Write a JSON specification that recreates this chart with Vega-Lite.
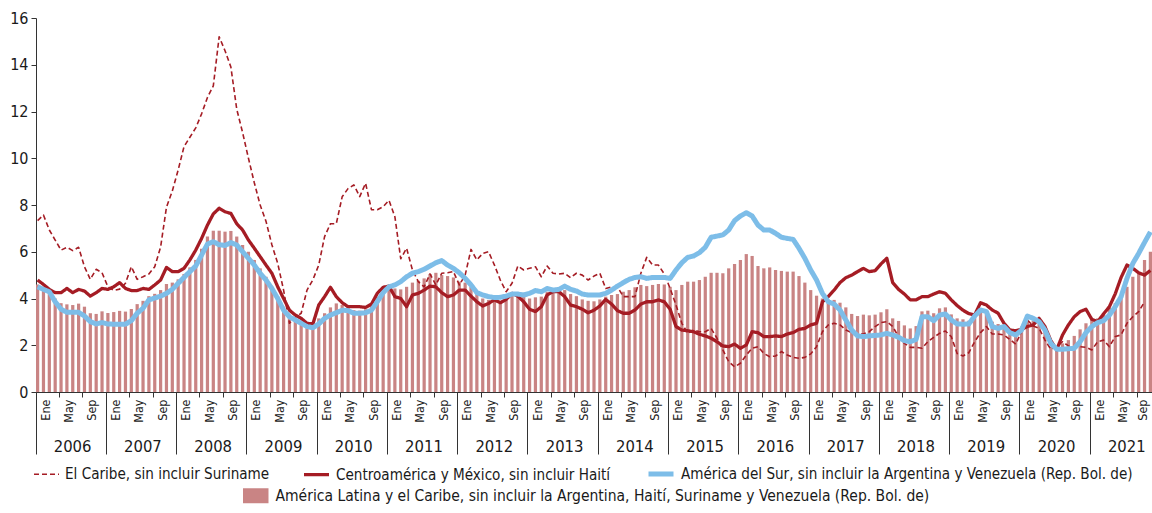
{
"$schema":"https://vega.github.io/schema/vega-lite/v6.json",
"width":1116,"height":374,
"autosize":{"type":"none"},
"padding":{"left":36,"top":18,"right":0,"bottom":121},
"background":"white",
"config":{"view":{"stroke":null},"font":"DejaVu Sans Condensed",
"axis":{"grid":false,"labelFont":"DejaVu Sans Condensed","labelColor":"#1a1a1a","domainColor":"#333333","tickColor":"#333333"},
"legend":{"labelFont":"DejaVu Sans Condensed","labelColor":"#1a1a1a"}},
"data":{"values":[
{"m":"2006-01","alc":4.6,"car":7.33,"cam":4.79,"sur":4.5},
{"m":"2006-02","alc":4.5,"car":7.57,"cam":4.6,"sur":4.39},
{"m":"2006-03","alc":4.3,"car":6.93,"cam":4.39,"sur":4.29},
{"m":"2006-04","alc":4.0,"car":6.5,"cam":4.25,"sur":3.86},
{"m":"2006-05","alc":3.8,"car":6.07,"cam":4.25,"sur":3.54},
{"m":"2006-06","alc":3.75,"car":6.19,"cam":4.43,"sur":3.41},
{"m":"2006-07","alc":3.72,"car":6.05,"cam":4.25,"sur":3.41},
{"m":"2006-08","alc":3.78,"car":6.19,"cam":4.39,"sur":3.41},
{"m":"2006-09","alc":3.65,"car":5.36,"cam":4.32,"sur":3.25},
{"m":"2006-10","alc":3.37,"car":4.82,"cam":4.1,"sur":3.01},
{"m":"2006-11","alc":3.34,"car":5.25,"cam":4.25,"sur":2.91},
{"m":"2006-12","alc":3.45,"car":5.1,"cam":4.43,"sur":2.97},
{"m":"2007-01","alc":3.38,"car":4.5,"cam":4.39,"sur":2.91},
{"m":"2007-02","alc":3.42,"car":4.35,"cam":4.5,"sur":2.9},
{"m":"2007-03","alc":3.47,"car":4.4,"cam":4.68,"sur":2.9},
{"m":"2007-04","alc":3.44,"car":4.65,"cam":4.43,"sur":2.9},
{"m":"2007-05","alc":3.55,"car":5.36,"cam":4.34,"sur":3.05},
{"m":"2007-06","alc":3.76,"car":4.82,"cam":4.34,"sur":3.37},
{"m":"2007-07","alc":3.9,"car":4.93,"cam":4.43,"sur":3.58},
{"m":"2007-08","alc":4.1,"car":5.05,"cam":4.39,"sur":3.94},
{"m":"2007-09","alc":4.2,"car":5.36,"cam":4.58,"sur":4.02},
{"m":"2007-10","alc":4.36,"car":6.2,"cam":4.79,"sur":4.1},
{"m":"2007-11","alc":4.62,"car":7.9,"cam":5.33,"sur":4.22},
{"m":"2007-12","alc":4.68,"car":8.6,"cam":5.15,"sur":4.39},
{"m":"2008-01","alc":4.82,"car":9.5,"cam":5.15,"sur":4.65},
{"m":"2008-02","alc":5.05,"car":10.5,"cam":5.29,"sur":4.9},
{"m":"2008-03","alc":5.33,"car":10.9,"cam":5.65,"sur":5.15},
{"m":"2008-04","alc":5.65,"car":11.3,"cam":6.07,"sur":5.39},
{"m":"2008-05","alc":6.13,"car":11.9,"cam":6.57,"sur":5.86},
{"m":"2008-06","alc":6.65,"car":12.6,"cam":7.14,"sur":6.33},
{"m":"2008-07","alc":6.9,"car":13.1,"cam":7.62,"sur":6.43},
{"m":"2008-08","alc":6.9,"car":15.2,"cam":7.86,"sur":6.3},
{"m":"2008-09","alc":6.86,"car":14.6,"cam":7.71,"sur":6.27},
{"m":"2008-10","alc":6.89,"car":13.9,"cam":7.64,"sur":6.39},
{"m":"2008-11","alc":6.65,"car":12.1,"cam":7.2,"sur":6.29},
{"m":"2008-12","alc":6.29,"car":11.1,"cam":6.93,"sur":6.0},
{"m":"2009-01","alc":6.0,"car":10.0,"cam":6.5,"sur":5.72},
{"m":"2009-02","alc":5.65,"car":8.95,"cam":6.15,"sur":5.43},
{"m":"2009-03","alc":5.29,"car":8.0,"cam":5.79,"sur":5.08},
{"m":"2009-04","alc":4.93,"car":7.3,"cam":5.43,"sur":4.79},
{"m":"2009-05","alc":4.5,"car":6.3,"cam":5.08,"sur":4.43},
{"m":"2009-06","alc":4.08,"car":5.5,"cam":4.5,"sur":4.0},
{"m":"2009-07","alc":3.65,"car":4.36,"cam":4.0,"sur":3.5},
{"m":"2009-08","alc":3.22,"car":2.94,"cam":3.5,"sur":3.22},
{"m":"2009-09","alc":3.08,"car":3.2,"cam":3.29,"sur":3.08},
{"m":"2009-10","alc":3.0,"car":3.37,"cam":3.15,"sur":2.94},
{"m":"2009-11","alc":2.87,"car":4.36,"cam":2.94,"sur":2.8},
{"m":"2009-12","alc":2.87,"car":4.8,"cam":2.91,"sur":2.75},
{"m":"2010-01","alc":3.15,"car":5.43,"cam":3.72,"sur":2.91},
{"m":"2010-02","alc":3.37,"car":6.65,"cam":4.08,"sur":3.15},
{"m":"2010-03","alc":3.62,"car":7.2,"cam":4.48,"sur":3.29},
{"m":"2010-04","alc":3.79,"car":7.2,"cam":4.08,"sur":3.39},
{"m":"2010-05","alc":3.72,"car":8.35,"cam":3.82,"sur":3.5},
{"m":"2010-06","alc":3.65,"car":8.7,"cam":3.65,"sur":3.48},
{"m":"2010-07","alc":3.5,"car":8.86,"cam":3.65,"sur":3.37},
{"m":"2010-08","alc":3.48,"car":8.36,"cam":3.65,"sur":3.37},
{"m":"2010-09","alc":3.54,"car":8.93,"cam":3.62,"sur":3.39},
{"m":"2010-10","alc":3.72,"car":7.8,"cam":3.76,"sur":3.5},
{"m":"2010-11","alc":4.08,"car":7.8,"cam":4.22,"sur":3.86},
{"m":"2010-12","alc":4.29,"car":7.93,"cam":4.48,"sur":4.25},
{"m":"2011-01","alc":4.39,"car":8.2,"cam":4.53,"sur":4.5},
{"m":"2011-02","alc":4.43,"car":7.5,"cam":4.08,"sur":4.58},
{"m":"2011-03","alc":4.39,"car":5.7,"cam":4.0,"sur":4.72},
{"m":"2011-04","alc":4.5,"car":6.15,"cam":3.65,"sur":4.93},
{"m":"2011-05","alc":4.68,"car":5.22,"cam":4.15,"sur":5.08},
{"m":"2011-06","alc":4.76,"car":4.72,"cam":4.22,"sur":5.15},
{"m":"2011-07","alc":4.86,"car":4.5,"cam":4.36,"sur":5.25},
{"m":"2011-08","alc":5.05,"car":5.05,"cam":4.53,"sur":5.39},
{"m":"2011-09","alc":5.1,"car":4.58,"cam":4.5,"sur":5.53},
{"m":"2011-10","alc":5.0,"car":5.08,"cam":4.25,"sur":5.62},
{"m":"2011-11","alc":4.96,"car":5.1,"cam":4.08,"sur":5.43},
{"m":"2011-12","alc":4.9,"car":5.15,"cam":4.15,"sur":5.29},
{"m":"2012-01","alc":4.72,"car":4.58,"cam":4.36,"sur":5.1},
{"m":"2012-02","alc":4.68,"car":5.0,"cam":4.36,"sur":4.86},
{"m":"2012-03","alc":4.5,"car":6.1,"cam":4.1,"sur":4.58},
{"m":"2012-04","alc":4.22,"car":5.65,"cam":3.86,"sur":4.25},
{"m":"2012-05","alc":4.0,"car":5.93,"cam":3.68,"sur":4.15},
{"m":"2012-06","alc":3.94,"car":6.0,"cam":3.79,"sur":4.08},
{"m":"2012-07","alc":3.9,"car":5.43,"cam":3.94,"sur":4.04},
{"m":"2012-08","alc":3.86,"car":4.79,"cam":3.82,"sur":4.05},
{"m":"2012-09","alc":3.96,"car":4.29,"cam":3.96,"sur":4.1},
{"m":"2012-10","alc":4.15,"car":4.65,"cam":4.22,"sur":4.19},
{"m":"2012-11","alc":4.22,"car":5.39,"cam":4.1,"sur":4.19},
{"m":"2012-12","alc":4.15,"car":5.22,"cam":3.86,"sur":4.15},
{"m":"2013-01","alc":4.0,"car":5.29,"cam":3.54,"sur":4.22},
{"m":"2013-02","alc":4.05,"car":5.36,"cam":3.44,"sur":4.34},
{"m":"2013-03","alc":4.08,"car":4.93,"cam":3.65,"sur":4.29},
{"m":"2013-04","alc":4.29,"car":5.39,"cam":4.15,"sur":4.43},
{"m":"2013-05","alc":4.29,"car":5.08,"cam":4.29,"sur":4.36},
{"m":"2013-06","alc":4.36,"car":5.05,"cam":4.29,"sur":4.39},
{"m":"2013-07","alc":4.36,"car":5.08,"cam":4.08,"sur":4.53},
{"m":"2013-08","alc":4.19,"car":4.89,"cam":3.72,"sur":4.39},
{"m":"2013-09","alc":4.1,"car":5.08,"cam":3.65,"sur":4.32},
{"m":"2013-10","alc":3.96,"car":5.0,"cam":3.54,"sur":4.19},
{"m":"2013-11","alc":3.9,"car":4.79,"cam":3.39,"sur":4.15},
{"m":"2013-12","alc":3.88,"car":4.96,"cam":3.5,"sur":4.15},
{"m":"2014-01","alc":3.96,"car":5.08,"cam":3.68,"sur":4.15},
{"m":"2014-02","alc":4.08,"car":4.43,"cam":3.96,"sur":4.22},
{"m":"2014-03","alc":4.15,"car":4.5,"cam":3.76,"sur":4.36},
{"m":"2014-04","alc":4.19,"car":4.5,"cam":3.48,"sur":4.53},
{"m":"2014-05","alc":4.29,"car":4.08,"cam":3.37,"sur":4.68},
{"m":"2014-06","alc":4.36,"car":4.08,"cam":3.37,"sur":4.82},
{"m":"2014-07","alc":4.48,"car":4.08,"cam":3.51,"sur":4.9},
{"m":"2014-08","alc":4.58,"car":5.08,"cam":3.76,"sur":4.93},
{"m":"2014-09","alc":4.53,"car":5.76,"cam":3.86,"sur":4.86},
{"m":"2014-10","alc":4.58,"car":5.43,"cam":3.86,"sur":4.9},
{"m":"2014-11","alc":4.62,"car":5.43,"cam":3.94,"sur":4.9},
{"m":"2014-12","alc":4.6,"car":5.05,"cam":3.86,"sur":4.9},
{"m":"2015-01","alc":4.5,"car":4.43,"cam":3.54,"sur":4.86},
{"m":"2015-02","alc":4.36,"car":3.72,"cam":2.8,"sur":5.22},
{"m":"2015-03","alc":4.58,"car":2.94,"cam":2.65,"sur":5.53},
{"m":"2015-04","alc":4.72,"car":2.51,"cam":2.62,"sur":5.76},
{"m":"2015-05","alc":4.72,"car":2.65,"cam":2.58,"sur":5.82},
{"m":"2015-06","alc":4.79,"car":2.58,"cam":2.47,"sur":5.96},
{"m":"2015-07","alc":4.93,"car":2.58,"cam":2.4,"sur":6.19},
{"m":"2015-08","alc":5.1,"car":2.72,"cam":2.3,"sur":6.62},
{"m":"2015-09","alc":5.1,"car":2.3,"cam":2.15,"sur":6.67},
{"m":"2015-10","alc":5.08,"car":1.8,"cam":1.97,"sur":6.72},
{"m":"2015-11","alc":5.29,"car":1.3,"cam":1.94,"sur":6.93},
{"m":"2015-12","alc":5.48,"car":1.08,"cam":2.05,"sur":7.33},
{"m":"2016-01","alc":5.65,"car":1.23,"cam":1.87,"sur":7.53},
{"m":"2016-02","alc":5.9,"car":1.58,"cam":2.01,"sur":7.67},
{"m":"2016-03","alc":5.82,"car":1.87,"cam":2.58,"sur":7.53},
{"m":"2016-04","alc":5.39,"car":1.94,"cam":2.54,"sur":7.14},
{"m":"2016-05","alc":5.29,"car":1.65,"cam":2.37,"sur":6.93},
{"m":"2016-06","alc":5.33,"car":1.51,"cam":2.37,"sur":6.93},
{"m":"2016-07","alc":5.22,"car":1.54,"cam":2.4,"sur":6.79},
{"m":"2016-08","alc":5.18,"car":1.73,"cam":2.37,"sur":6.62},
{"m":"2016-09","alc":5.15,"car":1.58,"cam":2.48,"sur":6.57},
{"m":"2016-10","alc":5.15,"car":1.48,"cam":2.54,"sur":6.53},
{"m":"2016-11","alc":4.96,"car":1.44,"cam":2.68,"sur":6.15},
{"m":"2016-12","alc":4.68,"car":1.48,"cam":2.72,"sur":5.72},
{"m":"2017-01","alc":4.36,"car":1.63,"cam":2.87,"sur":5.22},
{"m":"2017-02","alc":4.12,"car":1.94,"cam":2.94,"sur":4.79},
{"m":"2017-03","alc":4.0,"car":2.58,"cam":3.86,"sur":4.22},
{"m":"2017-04","alc":3.91,"car":2.87,"cam":4.08,"sur":3.86},
{"m":"2017-05","alc":3.94,"car":2.94,"cam":4.36,"sur":3.76},
{"m":"2017-06","alc":3.82,"car":2.87,"cam":4.68,"sur":3.51},
{"m":"2017-07","alc":3.62,"car":2.65,"cam":4.89,"sur":3.08},
{"m":"2017-08","alc":3.34,"car":2.54,"cam":5.0,"sur":2.65},
{"m":"2017-09","alc":3.25,"car":2.48,"cam":5.15,"sur":2.4},
{"m":"2017-10","alc":3.31,"car":2.48,"cam":5.29,"sur":2.37},
{"m":"2017-11","alc":3.28,"car":2.58,"cam":5.15,"sur":2.4},
{"m":"2017-12","alc":3.31,"car":2.8,"cam":5.19,"sur":2.42},
{"m":"2018-01","alc":3.41,"car":2.97,"cam":5.48,"sur":2.44},
{"m":"2018-02","alc":3.54,"car":3.01,"cam":5.72,"sur":2.51},
{"m":"2018-03","alc":3.15,"car":2.8,"cam":4.68,"sur":2.44},
{"m":"2018-04","alc":3.04,"car":2.37,"cam":4.39,"sur":2.34},
{"m":"2018-05","alc":2.85,"car":2.08,"cam":4.19,"sur":2.2},
{"m":"2018-06","alc":2.72,"car":1.91,"cam":3.94,"sur":2.15},
{"m":"2018-07","alc":2.82,"car":1.91,"cam":3.94,"sur":2.25},
{"m":"2018-08","alc":3.45,"car":1.87,"cam":4.08,"sur":3.22},
{"m":"2018-09","alc":3.48,"car":2.15,"cam":4.08,"sur":3.22},
{"m":"2018-10","alc":3.37,"car":2.34,"cam":4.19,"sur":3.05},
{"m":"2018-11","alc":3.58,"car":2.51,"cam":4.29,"sur":3.29},
{"m":"2018-12","alc":3.62,"car":2.61,"cam":4.22,"sur":3.34},
{"m":"2019-01","alc":3.32,"car":2.37,"cam":3.94,"sur":3.08},
{"m":"2019-02","alc":3.15,"car":1.65,"cam":3.7,"sur":2.91},
{"m":"2019-03","alc":3.11,"car":1.54,"cam":3.5,"sur":2.9},
{"m":"2019-04","alc":3.05,"car":1.68,"cam":3.35,"sur":2.91},
{"m":"2019-05","alc":3.37,"car":2.15,"cam":3.3,"sur":3.25},
{"m":"2019-06","alc":3.54,"car":2.54,"cam":3.82,"sur":3.51},
{"m":"2019-07","alc":3.37,"car":2.8,"cam":3.72,"sur":3.44},
{"m":"2019-08","alc":3.01,"car":2.48,"cam":3.51,"sur":2.8},
{"m":"2019-09","alc":2.91,"car":2.48,"cam":3.37,"sur":2.72},
{"m":"2019-10","alc":2.8,"car":2.44,"cam":2.94,"sur":2.8},
{"m":"2019-11","alc":2.58,"car":2.25,"cam":2.65,"sur":2.54},
{"m":"2019-12","alc":2.54,"car":2.05,"cam":2.62,"sur":2.44},
{"m":"2020-01","alc":2.8,"car":2.58,"cam":2.68,"sur":2.65},
{"m":"2020-02","alc":3.01,"car":3.08,"cam":2.8,"sur":3.25},
{"m":"2020-03","alc":3.05,"car":2.82,"cam":2.87,"sur":3.15},
{"m":"2020-04","alc":2.94,"car":2.72,"cam":3.15,"sur":3.01},
{"m":"2020-05","alc":2.58,"car":2.22,"cam":2.8,"sur":2.65},
{"m":"2020-06","alc":1.94,"car":1.83,"cam":2.2,"sur":2.08},
{"m":"2020-07","alc":1.8,"car":1.94,"cam":1.8,"sur":1.83},
{"m":"2020-08","alc":2.08,"car":2.15,"cam":2.44,"sur":1.83},
{"m":"2020-09","alc":2.22,"car":1.97,"cam":2.87,"sur":1.85},
{"m":"2020-10","alc":2.4,"car":1.91,"cam":3.22,"sur":1.87},
{"m":"2020-11","alc":2.68,"car":1.94,"cam":3.44,"sur":2.15},
{"m":"2020-12","alc":2.94,"car":1.91,"cam":3.54,"sur":2.54},
{"m":"2021-01","alc":3.08,"car":1.8,"cam":3.11,"sur":2.8},
{"m":"2021-02","alc":3.15,"car":2.15,"cam":3.01,"sur":2.97},
{"m":"2021-03","alc":3.34,"car":2.22,"cam":3.34,"sur":3.05},
{"m":"2021-04","alc":3.6,"car":1.94,"cam":3.65,"sur":3.29},
{"m":"2021-05","alc":3.8,"car":2.37,"cam":4.2,"sur":3.65},
{"m":"2021-06","alc":4.1,"car":2.44,"cam":4.9,"sur":4.08},
{"m":"2021-07","alc":4.5,"car":2.94,"cam":5.43,"sur":4.86},
{"m":"2021-08","alc":4.93,"car":3.22,"cam":5.29,"sur":5.5},
{"m":"2021-09","alc":5.08,"car":3.44,"cam":5.1,"sur":5.93},
{"m":"2021-10","alc":5.65,"car":3.86,"cam":5.0,"sur":6.4},
{"m":"2021-11","alc":6.0,"car":null,"cam":5.2,"sur":6.85}
]},
"layer":[
{"mark":{"type":"bar"},
"encoding":{
"x":{"field":"m","type":"ordinal","scale":{"paddingInner":0.45,"paddingOuter":0},
"axis":{"title":null,"orient":"bottom","bandPosition":0,"values":["2006-01","2006-05","2006-09","2007-01","2007-05","2007-09","2008-01","2008-05","2008-09","2009-01","2009-05","2009-09","2010-01","2010-05","2010-09","2011-01","2011-05","2011-09","2012-01","2012-05","2012-09","2013-01","2013-05","2013-09","2014-01","2014-05","2014-09","2015-01","2015-05","2015-09","2016-01","2016-05","2016-09","2017-01","2017-05","2017-09","2018-01","2018-05","2018-09","2019-01","2019-05","2019-09","2020-01","2020-05","2020-09","2021-01","2021-05","2021-09"],
"labelExpr":"substring(datum.value,5,7)=='01'?'Ene':substring(datum.value,5,7)=='05'?'May':'Sep'",
"labelFont":"DejaVu Sans Condensed",
"labelAngle":270,"labelAlign":"right","labelBaseline":"middle",
"labelOffset":{"condition":{"test":"datum.value == '2021-09'","value":4},"value":8},
"labelPadding":2,"tickSize":5,"labelFontSize":12.5,"labelOverlap":false,"labelFlush":false,"labelBound":false,"domainWidth":1}},
"y":{"field":"alc","type":"quantitative","scale":{"domain":[0,16],"nice":false},
"axis":{"title":null,"values":[0,2,4,6,8,10,12,14,16],"labelFont":"DejaVu Sans Condensed","tickSize":5,"labelPadding":3,"labelFontSize":16,"domainWidth":1}},
"fill":{"datum":"alc","scale":{"domain":["alc"],"range":["#C98484"]},
"legend":{"title":null,"orient":"none","legendX":212,"legendY":470,"symbolType":"M-1.7,-1H1.7V1H-1.7Z","symbolSize":225,"symbolStrokeWidth":0,"labelOffset":12,"labelFontSize":15.5,"labelLimit":1000,"labelFont":"DejaVu Sans Condensed",
"labelExpr":"'América Latina y el Caribe, sin incluir la Argentina, Haití, Suriname y Venezuela (Rep. Bol. de)'"}}
}},
{"transform":[{"fold":["car","cam","sur"],"as":["s","v"]}],
"mark":{"type":"line","strokeJoin":"round"},
"encoding":{
"x":{"field":"m","type":"ordinal",
"axis":{"title":null,"orient":"bottom","domain":false,"bandPosition":0,"values":["2006-01","2007-01","2008-01","2009-01","2010-01","2011-01","2012-01","2013-01","2014-01","2015-01","2016-01","2017-01","2018-01","2019-01","2020-01","2021-01"],
"labelExpr":"substring(datum.value,0,4)","labelFont":"DejaVu Sans Condensed","labelAngle":0,"labelAlign":"center","labelBaseline":"top","labelOffset":35,"tickSize":62,"labelPadding":-16,"labelFontSize":16.5,"labelOverlap":false,"labelFlush":false,"labelBound":false}},
"y":{"field":"v","type":"quantitative"},
"stroke":{"field":"s","type":"nominal","scale":{"domain":["car","cam","sur"],"range":["#A51C24","#A51C24","#7DBDE8"]},
"legend":{"title":null,"orient":"none","legendX":-3,"legendY":441,"direction":"horizontal","symbolType":"stroke","symbolSize":625,"labelOffset":5,"columnPadding":27,"labelFontSize":15.1,"labelLimit":1000,"labelFont":"DejaVu Sans Condensed",
"labelExpr":"datum.value=='car'?'El Caribe, sin incluir Suriname':datum.value=='cam'?'Centroamérica y México, sin incluir Haití':'América del Sur, sin incluir la Argentina y Venezuela (Rep. Bol. de)'"}},
"strokeDash":{"field":"s","type":"nominal","scale":{"domain":["car","cam","sur"],"range":[[5,3],[1,0],[1,0]]},
"legend":{"title":null,"orient":"none","legendX":-3,"legendY":441,"direction":"horizontal","symbolType":"stroke","symbolSize":625,"labelOffset":5,"columnPadding":27,"labelFontSize":15.1,"labelLimit":1000,"labelFont":"DejaVu Sans Condensed",
"labelExpr":"datum.value=='car'?'El Caribe, sin incluir Suriname':datum.value=='cam'?'Centroamérica y México, sin incluir Haití':'América del Sur, sin incluir la Argentina y Venezuela (Rep. Bol. de)'"}},
"strokeWidth":{"field":"s","type":"nominal","scale":{"domain":["car","cam","sur"],"range":[1.6,5,3.8]},
"legend":{"title":null,"orient":"none","legendX":-3,"legendY":441,"direction":"horizontal","symbolType":"stroke","symbolSize":625,"labelOffset":5,"columnPadding":27,"labelFontSize":15.1,"labelLimit":1000,"labelFont":"DejaVu Sans Condensed",
"labelExpr":"datum.value=='car'?'El Caribe, sin incluir Suriname':datum.value=='cam'?'Centroamérica y México, sin incluir Haití':'América del Sur, sin incluir la Argentina y Venezuela (Rep. Bol. de)'"}}
}}
],
"resolve":{"axis":{"x":"independent"}}
}
